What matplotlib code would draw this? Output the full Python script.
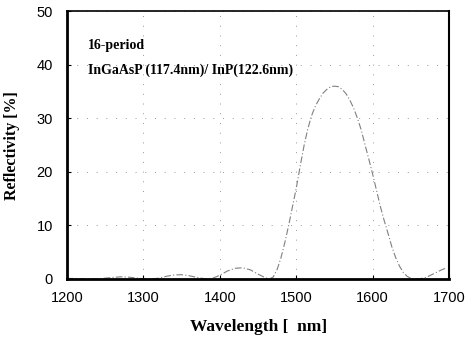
import matplotlib
matplotlib.use("Agg")
import matplotlib.pyplot as plt

wavelength = [1200, 1210, 1220, 1230, 1240, 1250, 1260, 1270, 1280, 1290, 1300,
              1310, 1320, 1330, 1340, 1350, 1360, 1370, 1380, 1390, 1400, 1410,
              1420, 1430, 1440, 1450, 1460, 1465, 1470, 1475, 1480, 1485, 1490,
              1495, 1500, 1505, 1510, 1515, 1520, 1525, 1530, 1535, 1540, 1545,
              1550, 1555, 1560, 1565, 1570, 1575, 1580, 1585, 1590, 1595, 1600,
              1605, 1610, 1615, 1620, 1625, 1630, 1635, 1640, 1645, 1650, 1660,
              1670, 1680, 1690, 1695]
reflectivity = [0.1, 0.1, 0.05, 0.0, 0.05, 0.15, 0.3, 0.4, 0.35, 0.2, 0.05,
                0.0, 0.15, 0.5, 0.75, 0.8, 0.6, 0.3, 0.05, 0.1, 0.7, 1.5,
                2.0, 2.1, 1.7, 0.9, 0.2, 0.0, 0.4, 1.8, 4.0, 6.8, 10.0,
                13.5, 17.0, 21.0, 24.8, 28.0, 30.5, 32.3, 33.6, 34.7, 35.4, 35.9,
                36.0, 35.9, 35.4, 34.6, 33.4, 31.9, 30.0, 27.8, 25.0, 22.3, 19.5,
                16.5, 13.5, 10.9, 8.5, 6.0, 4.0, 2.4, 1.2, 0.5, 0.1, 0.0,
                0.3, 1.0, 1.7, 2.0]
xticks = [1200, 1300, 1400, 1500, 1600, 1700]
yticks = [0, 10, 20, 30, 40, 50]
annotation_lines = ["16-period", "InGaAsP (117.4nm)/ InP(122.6nm)"]

fig = plt.figure(figsize=(4.65, 3.38), dpi=100)
ax = fig.add_axes([0.144, 0.1746, 0.822, 0.7924])

ax.plot(wavelength, reflectivity, color="#808080", lw=0.8,
        linestyle=(0, (6, 2, 1, 2)))

ax.set_xlim(1200, 1700)
ax.set_ylim(0, 50)
ax.set_xticks(xticks)
ax.set_yticks(yticks)
ax.grid(True, color="#999999", lw=0.7, linestyle=(0, (1, 9)))

for lab in ax.get_xticklabels() + ax.get_yticklabels():
    lab.set_fontfamily("Liberation Sans")
    lab.set_fontsize(10.5)
ax.tick_params(direction="in", length=3, width=0.8)
ax.tick_params(axis="x", pad=9)
ax.tick_params(axis="y", pad=10)

ax.spines["left"].set_linewidth(2.0)
ax.spines["bottom"].set_linewidth(2.0)
ax.spines["top"].set_linewidth(1.2)
ax.spines["right"].set_linewidth(1.5)

ax.set_xlabel("Wavelength [  nm]", fontfamily="Liberation Serif",
              fontweight="bold", fontsize=12.5, labelpad=10)
ax.set_ylabel("Reflectivity [%]", fontfamily="Liberation Serif",
              fontweight="bold", fontsize=11.5, labelpad=12)

ax.text(0.055, 0.87, annotation_lines[0], transform=ax.transAxes,
        fontfamily="Liberation Serif", fontweight="bold", fontsize=10, va="center")
ax.text(0.055, 0.78, annotation_lines[1], transform=ax.transAxes,
        fontfamily="Liberation Serif", fontweight="bold", fontsize=10, va="center")

fig.savefig("out.png", dpi=100)
